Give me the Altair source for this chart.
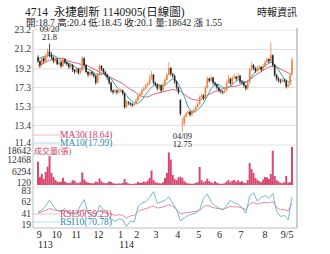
import altair as alt
import pandas as pd

# ---------------- data ----------------
open_ = [20.4,20.0,19.6,20.3,20.0,20.6,21.0,20.6,20.4,20.0,
         20.2,19.7,19.9,19.5,20.2,19.9,19.7,19.4,19.6,19.1,
         18.9,19.2,18.8,19.1,20.3,19.6,18.9,18.6,18.9,18.7,
         18.5,17.8,18.6,19.5,19.2,18.9,18.6,18.3,17.8,17.0,
         16.8,17.0,16.8,16.9,17.0,16.7,15.3,15.8,15.7,15.6,
         15.5,15.6,16.0,16.4,16.6,17.0,17.2,17.5,17.7,18.2,
         18.6,17.8,17.6,17.2,17.5,17.0,17.6,18.1,18.6,19.3,
         18.7,18.5,17.9,17.3,16.0,13.5,13.6,14.3,14.6,14.8,
         14.5,14.8,15.0,15.3,15.6,16.3,16.5,16.2,17.3,18.2,
         18.0,18.3,17.8,17.6,17.3,17.0,16.9,16.8,17.0,17.8,
         18.2,17.7,18.3,18.4,18.2,18.5,17.9,17.8,17.5,17.2,
         17.8,19.1,19.6,19.3,19.0,19.3,19.4,19.1,19.5,19.9,
         20.2,20.0,20.6,19.6,18.6,18.2,18.0,17.9,18.1,18.0,
         17.4,17.6,18.7]
close = [20.0,19.6,20.3,20.0,20.6,21.0,20.6,20.4,20.0,20.2,
         19.7,19.9,19.5,20.2,19.9,19.7,19.4,19.6,19.1,18.9,
         19.2,18.8,19.1,20.3,19.6,18.9,18.6,18.9,18.7,18.5,
         17.8,18.6,19.5,19.2,18.9,18.6,18.3,17.8,17.0,16.8,
         17.0,16.8,16.9,17.0,16.7,15.3,15.8,15.7,15.6,15.5,
         15.6,16.0,16.4,16.6,17.0,17.2,17.5,17.7,18.2,18.6,
         17.8,17.6,17.2,17.5,17.0,17.6,18.1,18.6,19.3,18.7,
         18.5,17.9,17.3,16.8,14.6,13.6,14.3,14.6,14.8,14.5,
         14.8,15.0,15.3,15.6,16.3,16.5,16.2,17.3,18.2,18.0,
         18.3,17.8,17.6,17.3,17.0,16.9,16.8,17.0,17.8,18.2,
         17.7,18.3,18.4,18.2,18.5,17.9,17.8,17.5,17.2,17.8,
         19.1,19.6,19.3,19.0,19.3,19.4,19.1,19.5,19.9,20.2,
         20.0,20.6,19.6,18.6,18.2,18.0,17.9,18.1,18.0,17.4,
         17.6,18.55,20.1]
high = [20.6,20.1,20.5,20.4,20.8,21.3,21.8,20.9,20.5,20.4,
        20.3,20.1,20.0,20.4,20.3,20.0,19.8,19.8,19.7,19.2,
        19.4,19.3,19.3,20.5,20.4,19.7,19.0,19.1,19.0,18.8,
        18.6,18.8,19.7,19.6,19.3,19.0,18.7,18.4,17.9,17.1,
        17.2,17.1,17.1,17.2,17.1,16.8,16.0,15.9,15.8,15.7,
        15.8,16.2,16.5,16.8,17.2,17.4,17.7,17.9,18.6,19.0,
        18.7,17.9,17.7,17.7,17.6,17.8,18.3,18.8,19.9,19.4,
        18.8,18.6,18.0,17.4,16.1,14.2,14.5,14.8,15.0,14.9,
        15.0,15.2,15.5,15.8,16.5,16.7,16.6,17.5,18.4,18.3,
        18.5,18.4,17.9,17.7,17.4,17.1,17.0,17.2,18.0,18.6,
        18.3,18.5,18.7,18.5,18.8,18.6,18.0,17.9,17.6,18.0,
        19.3,19.9,19.7,19.4,19.5,19.6,19.5,19.7,20.1,20.4,
        20.3,21.9,20.7,19.7,18.7,18.4,18.2,18.3,18.2,18.1,
        17.8,18.7,20.4]
low = [19.8,19.3,19.5,19.8,19.9,20.4,20.4,20.2,19.8,19.9,
       19.6,19.5,19.3,19.4,19.7,19.5,19.2,19.3,18.9,18.7,
       18.8,18.6,18.7,19.0,19.4,18.8,18.4,18.5,18.5,18.3,
       17.6,17.7,18.5,19.0,18.7,18.4,18.1,17.6,16.8,16.6,
       16.7,16.6,16.7,16.8,16.5,15.1,15.2,15.5,15.4,15.3,
       15.4,15.5,15.9,16.3,16.5,16.9,17.1,17.4,17.6,18.1,
       17.6,17.4,17.0,17.1,16.8,16.9,17.5,18.0,18.5,18.5,
       18.3,17.7,17.1,16.6,14.4,12.75,13.4,14.2,14.5,14.3,
       14.4,14.7,14.9,15.2,15.5,16.2,16.0,16.1,17.2,17.8,
       17.9,17.6,17.4,17.1,16.8,16.7,16.6,16.7,16.9,17.7,
       17.5,17.6,18.2,18.0,18.1,17.7,17.6,17.3,17.0,17.1,
       17.7,19.0,19.1,18.8,18.9,19.2,18.9,19.0,19.4,19.8,
       19.8,19.9,19.4,18.4,18.0,17.8,17.7,17.8,17.8,17.2,
       17.3,17.5,18.45]
volume = [11500,4000,5500,3000,6500,9000,14300,6000,4000,2500,
          1800,1500,1700,3600,1800,1200,1000,1400,2500,2200,
          1200,1000,1600,6200,2800,1800,1300,1100,900,1000,
          1800,1500,3300,1800,1200,1000,1100,1900,1600,1000,
          800,700,900,800,1100,3000,1500,900,700,600,
          700,900,1600,1100,1300,1800,1500,2200,3500,7200,
          2500,1500,1200,1000,900,1400,3500,6000,16000,12500,
          5000,3000,2500,3800,4200,3500,2000,1300,900,800,
          700,800,1100,1500,8900,2500,1500,2000,3200,2000,
          1400,1000,1900,1200,800,700,800,1000,1800,2500,
          1500,2200,2600,1600,2400,1500,2000,1200,1000,2500,
          10800,7800,6000,3500,2500,2000,1500,2800,4000,3800,
          3000,5500,16800,4500,2500,1800,1200,1000,1500,4500,
          1200,1500,18642]
ma30 = [19.5,19.7,19.9,20.1,20.2,20.3,20.3,20.2,20.0,19.9,
        19.8,19.7,19.6,19.5,19.3,19.1,18.9,18.7,18.5,18.3,
        18.1,17.9,17.7,17.4,17.1,16.9,16.6,16.4,16.3,16.4,
        16.6,16.7,16.8,16.9,17.0,17.1,17.0,16.9,16.6,16.3,
        16.1,16.0,16.0,16.2,16.5,16.7,16.9,17.0,17.2,17.3,
        17.4,17.4,17.5,17.7,17.9,18.1,18.4,18.7,18.9,19.2,
        19.4,19.5,19.4,19.2,19.0,18.8,18.64]
ma10 = [20.2,20.4,20.5,20.6,20.6,20.4,20.1,19.9,19.8,19.6,
        19.3,19.2,19.3,19.2,19.0,18.7,18.6,18.7,18.6,18.2,
        17.6,17.1,16.9,16.5,16.0,15.7,15.7,16.0,16.6,17.1,
        17.5,17.6,17.5,17.5,17.9,18.2,18.0,17.3,16.4,15.3,
        14.8,14.8,15.2,15.7,16.4,17.2,17.6,17.6,17.3,17.2,
        17.4,17.8,18.1,18.0,17.8,18.1,18.7,19.1,19.3,19.5,
        19.8,19.9,19.4,18.8,18.2,17.9,17.99]
rsi30 = [42,44,47,50,48,46,45,46,44,43,
         42,46,48,44,42,41,46,44,42,40,
         38,39,38,33,37,38,45,48,50,52,
         55,51,52,54,57,54,49,40,42,43,
         44,45,47,53,56,53,51,50,49,51,
         54,53,53,51,48,58,61,58,60,61,
         60,63,52,48,48,46,59.23]
rsi10 = [44,47,55,65,54,47,45,50,43,41,
         40,55,66,42,38,36,56,48,40,32,
         27,32,30,18,28,26,54,60,62,70,
         80,59,62,65,71,60,48,28,33,38,
         40,42,48,68,76,62,55,51,47,55,
         65,60,58,52,42,72,78,63,70,73,
         68,77,45,36,38,30,70.78]

price_ticks = [23.2, 21.2, 19.2, 17.3, 15.3, 13.4, 11.4]
price_label_dy = [0, 0, 0, 0, 0, 0, -2.5]
vol_ticks = [18642, 12468, 6294, 120]
vol_label_dy = [3.5, 0, 0, -2]
rsi_ticks = [83, 62, 41, 19]
rsi_label_dy = [0.5, 0, 0, -1.5]
month_labels = ["9", "10", "11", "12", "1", "2", "3", "4", "5", "6", "7", "8", "9/5"]
month_pos = [0.7, 9.75, 19.9, 31.5, 42.85, 51.35, 61.35, 72.65, 83.5, 94.35, 105.5, 118, 129.5]
year_labels = ["113", "114"]
year_pos = [0, 42.25]

# ---------------- frames ----------------
N = len(close)
idx = list(range(N))
candles = pd.DataFrame({"i": idx, "o": open_, "c": close, "h": high, "l": low, "v": volume})
ma_df = pd.DataFrame({"i": list(range(0, N, 2)), "ma30": ma30, "ma10": ma10,
                      "rsi30": rsi30, "rsi10": rsi10})

FONT = "Liberation Serif, Noto Sans CJK TC, serif"
UP = "#ee8240"
DOWN = "#262626"
C_MA30 = "#e0607c"
C_MA10 = "#3aa3b8"
C_VOL = "#d94770"
C_RSI30 = "#e37b90"
C_RSI10 = "#5db6cb"
GRID = "#e2e2e2"
FRAME = "#bdbdbd"

xs = alt.Scale(domain=[0, N - 1], nice=False, zero=False)
ps = alt.Scale(domain=[11.4, 23.2], range=[145, 30], nice=False, zero=False)
vs = alt.Scale(domain=[120, 18642], range=[185, 147], nice=False, zero=False, clamp=True)
rs = alt.Scale(domain=[19, 83], range=[226, 190], nice=False, zero=False)

X = alt.X("i:Q", scale=xs, axis=None)
base = alt.Chart(candles)
updown = alt.condition("datum.c >= datum.o", alt.value(UP), alt.value(DOWN))


def txt(text, x, y, size=10, color="#222", align="left", baseline="alphabetic"):
    return alt.Chart(pd.DataFrame({"t": [text]})).mark_text(
        font=FONT, fontSize=size, color=color, align=align, baseline=baseline
    ).encode(text="t:N", x=alt.value(x), y=alt.value(y))


def hline(y, x1=0, x2=264, color=GRID, w=1):
    return alt.Chart(pd.DataFrame({"k": [0]})).mark_rule(color=color, strokeWidth=w).encode(
        x=alt.value(x1), x2=alt.value(x2), y=alt.value(y))


def vline(x, y1, y2, color=FRAME, w=1):
    return alt.Chart(pd.DataFrame({"k": [0]})).mark_rule(color=color, strokeWidth=w).encode(
        x=alt.value(x), y=alt.value(y1), y2=alt.value(y2))


def ylabels(ticks, dys, scale, size, fmt):
    layers_ = []
    for t, d in zip(ticks, dys):
        layers_.append(alt.Chart(pd.DataFrame({"p": [t]})).mark_text(
            font=FONT, fontSize=size, color="#333", align="right", baseline="middle",
            dx=-2, dy=d).encode(
            y=alt.Y("p:Q", scale=scale, axis=None), x=alt.value(0),
            text=alt.Text("p:Q", format=fmt)))
    return layers_


layers = []

# price gridlines
layers.append(alt.Chart(pd.DataFrame({"p": price_ticks})).mark_rule(color=GRID, strokeWidth=1).encode(
    y=alt.Y("p:Q", scale=ps, axis=None), x=alt.value(0), x2=alt.value(264)))
layers.append(hline(187, color=GRID))
layers.append(hline(228, color=FRAME))

# legend line swatches
layers.append(hline(135, 0, 27, color="#f2b8c4"))
layers.append(hline(143, 0, 27, color="#a9d9e4"))
layers.append(hline(214, 0, 27, color="#f2c0cb"))
layers.append(hline(222, 0, 27, color="#b5dde7"))

# volume bars
layers.append(base.mark_bar(size=2, color=C_VOL).encode(
    x=X, y=alt.Y("v:Q", scale=vs, axis=None), y2=alt.datum(120)))

# RSI lines
layers.append(alt.Chart(ma_df).mark_line(color=C_RSI30, strokeWidth=0.9).encode(
    x=X, y=alt.Y("rsi30:Q", scale=rs, axis=None)))
layers.append(alt.Chart(ma_df).mark_line(color=C_RSI10, strokeWidth=0.9).encode(
    x=X, y=alt.Y("rsi10:Q", scale=rs, axis=None)))

# moving averages
layers.append(alt.Chart(ma_df).mark_line(color=C_MA30, strokeWidth=1).encode(
    x=X, y=alt.Y("ma30:Q", scale=ps, axis=None)))
layers.append(alt.Chart(ma_df).mark_line(color=C_MA10, strokeWidth=1).encode(
    x=X, y=alt.Y("ma10:Q", scale=ps, axis=None)))

# candles
layers.append(base.mark_rule(strokeWidth=0.8).encode(
    x=X, y=alt.Y("l:Q", scale=ps, axis=None), y2="h:Q", color=updown))
layers.append(base.mark_bar(size=1.6).encode(
    x=X, y=alt.Y("o:Q", scale=ps, axis=None), y2="c:Q", color=updown))

# frame
layers.append(vline(0, 30, 228))
layers.append(vline(264, 28, 228, w=1.5))

# y-axis labels
layers += ylabels(price_ticks, price_label_dy, ps, 9.5, ".1f")
layers += ylabels(vol_ticks, vol_label_dy, vs, 9.5, "d")
layers += ylabels(rsi_ticks, rsi_label_dy, rs, 9.5, "d")

# x-axis labels
layers.append(alt.Chart(pd.DataFrame({"pos": month_pos, "lab": month_labels})).mark_text(
    font=FONT, fontSize=10, color="#222", align="center", baseline="alphabetic").encode(
    x=alt.X("pos:Q", scale=xs, axis=None), y=alt.value(238), text="lab:N"))
layers.append(alt.Chart(pd.DataFrame({"pos": year_pos, "lab": year_labels})).mark_text(
    font=FONT, fontSize=10, color="#222", align="left", baseline="alphabetic").encode(
    x=alt.X("pos:Q", scale=xs, axis=None), y=alt.value(248), text="lab:N"))

# high / low annotations
ann = pd.DataFrame({"i": [6, 6, 75, 75], "p": [21.8, 21.8, 12.75, 12.75],
                    "t": ["09/20", "21.8", "04/09", "12.75"],
                    "dy": [-10, -2, 0, 8], "b": ["bottom", "bottom", "top", "top"]})
for k in range(4):
    layers.append(alt.Chart(ann.iloc[[k]]).mark_text(
        font=FONT, fontSize=8.5, color="#222", align="center",
        baseline=ann["b"][k], dy=int(ann["dy"][k])).encode(
        x=alt.X("i:Q", scale=xs, axis=None), y=alt.Y("p:Q", scale=ps, axis=None), text="t:N"))

# legend texts
layers.append(txt("MA30(18.64)", 27, 135, 9.5, "#d43d66", baseline="middle"))
layers.append(txt("MA10(17.99)", 27, 143, 9.5, "#1d8db0", baseline="middle"))
layers.append(txt("成交量(張)", 1, 152, 8, "#d43d66", baseline="middle"))
layers.append(txt("RSI30(59.23)", 27, 214, 9.5, "#d43d66", baseline="middle"))
layers.append(txt("RSI10(70.78)", 27, 222, 9.5, "#1d8db0", baseline="middle"))

# titles
layers.append(txt("4714\u00a0\u00a0永捷創新 1140905(日線圖)", -8, 16, 11.5, "#1a1a1a"))
layers.append(txt("時報資訊", 264, 16, 10, "#1a1a1a", align="right"))
layers.append(txt("開:18.7 高:20.4 低:18.45 收:20.1 量:18642 漲 1.55", -7, 26, 9.5, "#1a1a1a"))

chart = alt.layer(*layers).resolve_scale(y="independent").properties(
    width=264, height=254,
    autosize=alt.AutoSizeParams(type="none"),
    padding={"left": 33, "top": 0, "right": 33, "bottom": 0},
    background="white",
).configure_view(stroke=None)

chart.save("out.html", embed_options={"renderer": "svg", "actions": False})
